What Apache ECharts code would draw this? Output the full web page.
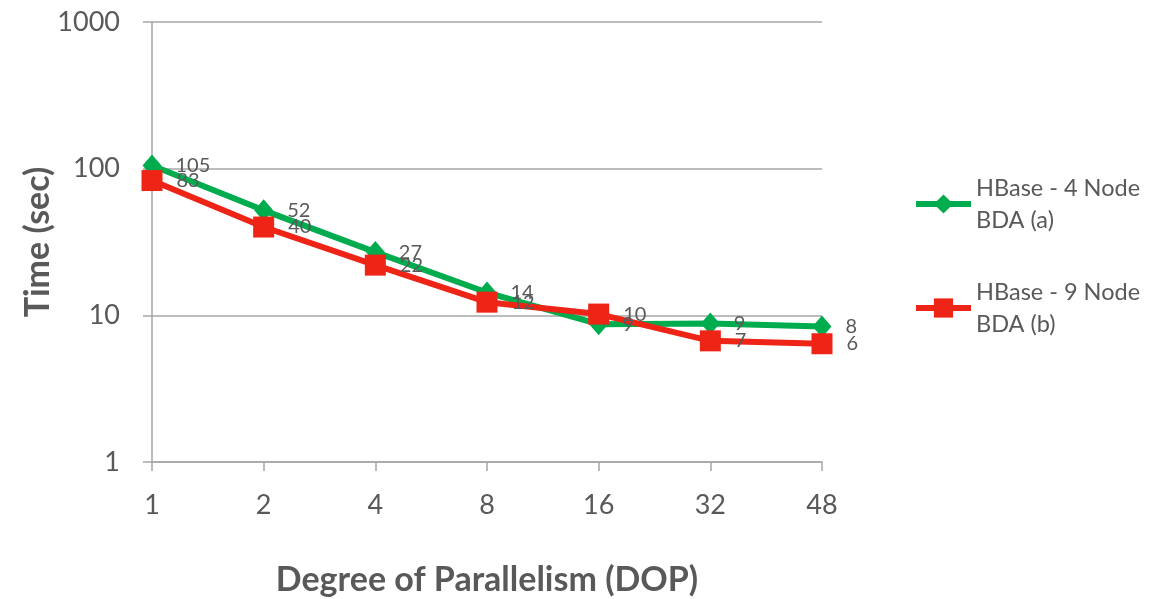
<!DOCTYPE html>
<html>
<head>
<meta charset="utf-8">
<script src="https://cdn.jsdelivr.net/npm/echarts@6/dist/echarts.min.js"></script>
<style>
  html, body { margin: 0; padding: 0; background: #fff; }
  #chart { width: 1170px; height: 599px; }
</style>
</head>
<body>
<div id="chart"></div>
<script>
// Degree of parallelism on the x axis, query time (seconds, log scale) on y
const dopLabels = ['1', '2', '4', '8', '16', '32', '48'];
const hbase4Node = [105, 52, 27, 14.3, 8.7, 8.8, 8.4];
const hbase9Node = [83, 40, 22, 12.3, 10.2, 6.7, 6.4];
const seriesNames = ['HBase - 4 Node BDA (a)', 'HBase - 9 Node BDA (b)'];
const yTicks = [1, 10, 100, 1000];

const FONT = 'Lato';
const TEXT = '#595959';
const AXIS = '#A6A6A6';
const GREEN = '#00AC4E';
const RED = '#EE2417';

const chart = echarts.init(document.getElementById('chart'));

function lineSeries(name, data, color, symbol, size) {
  return {
    name: name,
    type: 'line',
    data: data,
    symbol: symbol,
    symbolSize: size,
    lineStyle: { color: color, width: 6 },
    itemStyle: { color: color },
    label: {
      show: true,
      position: 'right',
      distance: 14,
      fontFamily: FONT,
      fontSize: 20,
      color: TEXT,
      formatter: p => String(Math.round(p.value))
    },
    emphasis: { disabled: true },
    animation: false
  };
}

chart.setOption({
  backgroundColor: '#ffffff',
  animation: false,
  grid: { left: 152, right: 348, top: 22, bottom: 137, containLabel: false, outerBoundsMode: 'none' },
  legend: {
    orient: 'vertical',
    left: 913,
    top: 156,
    padding: 0,
    itemWidth: 55,
    itemHeight: 24,
    itemGap: 8,
    selectedMode: false,
    data: seriesNames,
    lineStyle: { width: 6 },
    formatter: name => name.replace(' BDA', '\nBDA'),
    textStyle: {
      fontFamily: FONT,
      fontSize: 23.5,
      color: TEXT,
      lineHeight: 32,
      padding: [32, 0, 0, 0]
    }
  },
  xAxis: {
    type: 'category',
    data: dopLabels,
    boundaryGap: false,
    name: 'Degree of Parallelism (DOP)',
    nameLocation: 'middle',
    nameGap: 101,
    nameMoveOverlap: false,
    nameTextStyle: { fontFamily: FONT, fontSize: 34, fontWeight: 'bold', color: TEXT },
    axisLine: { lineStyle: { color: AXIS, width: 1.5 } },
    axisTick: { show: true, length: 9, lineStyle: { color: AXIS, width: 1.5 } },
    axisLabel: { fontFamily: FONT, fontSize: 27, color: TEXT, margin: 30 },
    splitLine: { show: false }
  },
  yAxis: {
    type: 'log',
    logBase: 10,
    min: yTicks[0],
    max: yTicks[yTicks.length - 1],
    name: 'Time (sec)',
    nameLocation: 'middle',
    nameGap: 97,
    nameMoveOverlap: false,
    nameRotate: 90,
    nameTextStyle: { fontFamily: FONT, fontSize: 34, fontWeight: 'bold', color: TEXT },
    axisLine: { show: true, lineStyle: { color: AXIS, width: 1.5 } },
    axisTick: { show: true, length: 9, lineStyle: { color: AXIS, width: 1.5 } },
    axisLabel: {
      fontFamily: FONT, fontSize: 27, color: TEXT, margin: 32,
      formatter: v => String(Math.round(v))
    },
    splitLine: { show: true, lineStyle: { color: AXIS, width: 1.5 } },
    minorTick: { show: false },
    minorSplitLine: { show: false }
  },
  series: [
    lineSeries(seriesNames[0], hbase4Node, GREEN, 'diamond', [19, 22]),
    lineSeries(seriesNames[1], hbase9Node, RED, 'rect', 21)
  ]
});
</script>
</body>
</html>
